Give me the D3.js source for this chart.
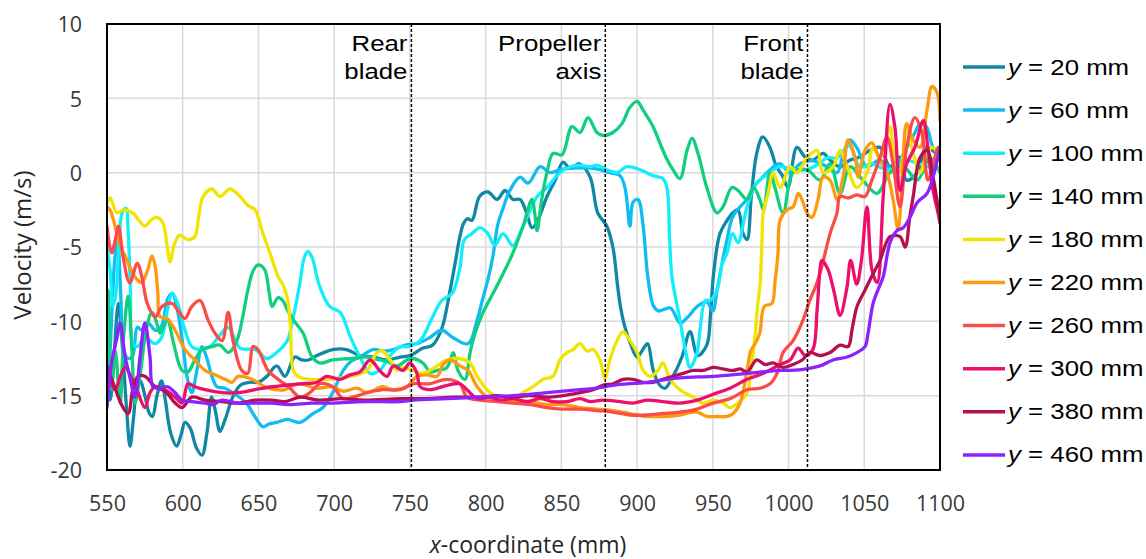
<!DOCTYPE html>
<html>
<head>
<meta charset="utf-8">
<script src="https://cdn.jsdelivr.net/npm/d3@7"></script>
<style>
  html, body { margin: 0; padding: 0; background: #fff; }
  svg { display: block; }
</style>
</head>
<body>
<svg id="chart" width="1146" height="559"></svg>
<script>
// ---- data -------------------------------------------------------------
const xTicks = [550, 600, 650, 700, 750, 800, 850, 900, 950, 1000, 1050, 1100];
const xTickLabels = ["550", "600", "650", "700", "750", "800", "850", "900", "950", "1000", "1050", "1100"];
const yTicks = [-20, -15, -10, -5, 0, 5, 10];
const yTickLabels = ["-20", "-15", "-10", "-5", "0", "5", "10"];

const seriesNames = ["20", "60", "100", "140", "180", "220", "260", "300", "380", "460"];
const seriesColors = ["#0f87a5", "#10bdf0", "#14eefa", "#10cf7f", "#f0e400", "#fd9a0f", "#fc4c48", "#ec0f6b", "#b4104f", "#8c22fc"];

// reference positions along x (mm) and their captions
const markerX = [751, 879, 1012.5];
const markerLabels = [["Rear", "blade"], ["Propeller", "axis"], ["Front", "blade"]];

// velocity profiles: [x (mm), velocity (m/s)]
const y20 = [[550,-14.5],[552,-15.3],[554.5,-12.5],[557.5,-8.8],[560,-11.5],[563,-16],[565.2,-18.4],[567.5,-16.5],[570.5,-14],[572,-14],[575,-15],[578,-16.2],[580,-16.4],[583,-15],[586,-14],[588.5,-15.3],[592,-17.5],[596,-18.4],[599,-17.6],[601.5,-16.8],[605,-17.2],[609,-18.5],[612.7,-19],[616,-17.5],[619,-15.1],[621.5,-16],[624.6,-17.4],[628,-16.6],[633,-15.1],[638,-14.3],[644.5,-14.1],[650,-14.1],[655.6,-13.7],[662,-13],[667.5,-13.7],[674,-12.4],[678.6,-12.6],[683,-12.6],[688.6,-12.3],[699,-11.9],[708,-11.9],[717,-12.3],[725.6,-12.4],[735,-12.6],[743.5,-12.4],[750,-12.3],[758.6,-11.8],[765,-11.6],[771,-10.5],[776,-8.2],[780,-6],[783,-4.3],[785.5,-3.4],[788,-3.1],[791,-3.2],[796,-1.6],[801.5,-1.3],[807.5,-1.8],[812.8,-1.2],[818,-1.8],[822.7,-1.8],[827,-2.7],[830.6,-3.7],[834,-3.3],[840.5,-1.6],[846,-0.5],[851,0.7],[855.7,0.3],[862,0.6],[869,-0.3],[874,-2.7],[880,-3.6],[884,-5],[887,-7.5],[889,-9],[892,-10.4],[896,-11.6],[900,-12.4],[905,-11.7],[907,-11.5],[910.7,-13.3],[915,-14.3],[918.5,-14.5],[923.7,-13.7],[929.6,-12.4],[935,-10.7],[940,-12.3],[946,-11.6],[948.5,-9.5],[950.5,-6.8],[954.7,-4.1],[959.5,-3.2],[963.3,-2.7],[966.6,-2.5],[970,-4.1],[972.6,-4.5],[975.5,-1.5],[979,1.3],[983,2.4],[987.7,1.7],[992,0.4],[996,-0.2],[999.6,-1],[1005.5,1.7],[1011,1.05],[1016,0.85],[1022.8,1.3],[1027.4,0.85],[1034,0.4],[1040.6,0.85],[1047,1.05],[1053.8,1.5],[1060.4,1.7],[1067,0.4],[1073.6,1.05],[1078,-0.5],[1085,0],[1091,1.7],[1098,1.3],[1100,1.5]];
const y60 = [[550,-14.5],[552,-12],[555,-6],[557,-4.5],[559,-8],[561,-11.9],[564,-12.5],[567,-12.3],[570,-10.4],[573,-10.6],[577,-10.1],[582,-10.6],[586,-10.3],[590,-8.5],[593,-8.1],[596,-9],[600,-11.5],[603,-13.8],[606,-14.8],[609,-13.5],[612.7,-11.7],[616,-12.5],[619,-13.6],[622.6,-14.4],[628,-14.5],[633,-14.8],[642,-15.5],[647,-16.3],[653,-17.1],[657,-16.9],[662,-16.8],[669,-16.6],[677.4,-16.8],[686,-16.2],[692.6,-15.8],[699,-14.8],[706,-13.3],[711,-12.7],[717,-12.4],[725.6,-11.9],[733,-12],[739,-11.9],[747,-11.6],[754.7,-11.5],[763,-11.1],[771,-10.6],[778.6,-11.1],[788.4,-11.5],[794.4,-9.9],[798.3,-8.4],[802,-7],[805,-5.5],[808,-3.5],[811.5,-2.4],[816,-1.2],[822.7,-0.3],[828,-0.7],[836,0.4],[842.5,0],[849,0.2],[857.7,0.3],[869,0.3],[875.5,0.2],[882,0],[888.7,-0.2],[892,-1],[895.3,-3.6],[897.3,-2],[900.6,-1.8],[904,-3.6],[906.5,-6.5],[909,-8.3],[911,-9],[914,-9.3],[922,-9.1],[928.3,-10.1],[933.6,-9.7],[939.6,-9],[946,-8.7],[950,-9.3],[952.8,-7.9],[956.7,-5.8],[959.4,-4.5],[963,-3],[968,-2.3],[972.6,-1.8],[976.5,-1],[981,-0.5],[985.8,0],[994,0.6],[1001,0],[1007.6,0.6],[1016,0.8],[1025.4,0.4],[1032,0],[1036,1.2],[1040.6,2.2],[1045,1.7],[1051.8,0.4],[1060.4,0.85],[1069,0.2],[1078,1.7],[1083,2.6],[1087,3.3],[1091,3.1],[1095.4,1.7],[1100,1.3]];
const y100 = [[550,-5],[552,-6.5],[554,-9],[556,-8],[558,-4.5],[560,-2.7],[562.5,-2.4],[564,-4],[565.5,-8],[567,-11.5],[570,-11.7],[575,-11.1],[581.8,-11.5],[586,-11.1],[590,-9.2],[593,-8.1],[596,-8.6],[601.5,-10.6],[606,-11.7],[611.4,-11.9],[618,-11.7],[624,-11],[630,-10.4],[637.8,-11.8],[647.7,-11.9],[655.6,-12.5],[662,-12.1],[669,-11.3],[673,-9.7],[677.4,-7.4],[680,-5.8],[682.5,-5.3],[685.4,-5.7],[688.6,-7],[690.6,-7.7],[697,-9],[704,-9.4],[710.5,-11],[717,-12.4],[723.7,-13.5],[730,-13.3],[737,-12.3],[743.5,-11.7],[748.8,-11.7],[756.7,-11.3],[765,-9.7],[771,-8.6],[778,-8.1],[783,-6.4],[786,-4.5],[791,-4.1],[796.3,-3.7],[801.5,-4.1],[806,-4.9],[811.5,-4.1],[818,-4.9],[824.7,-3.6],[834,-1.6],[840.5,-1],[849,0],[855.7,0.4],[862.3,0.5],[869,0.4],[873.5,0.5],[880,0.2],[886.7,0],[893.3,0.4],[902,0.2],[910.5,-0.2],[917,-0.4],[919.7,-1],[921.5,-4.5],[923,-7],[928.3,-9.9],[932,-12],[935,-13.1],[939.6,-12.1],[941.5,-10.6],[945,-8.6],[948,-8.6],[952.8,-7.9],[956,-6.2],[959.4,-5.4],[963,-4.1],[966.6,-4.7],[972.6,-2.3],[979,-0.7],[987.7,0],[994.4,0.4],[1003,0.2],[1012,0.2],[1020,0.6],[1025.4,1],[1032,1],[1040,1.8],[1047,0.4],[1055,0.6],[1062,0.3],[1070,0.2],[1078,0.8],[1086,0.6],[1092,0.4],[1100,0.2]];
const y140 = [[550,-12],[550.7,-7.9],[553,-14.6],[555.5,-12],[558.6,-15.5],[561,-11],[564,-8.3],[566.5,-12],[568.5,-15.5],[572,-13.5],[576,-10.5],[579.7,-9.4],[582.5,-10],[585,-10.8],[588,-10.2],[590,-9.9],[594,-11.5],[599.5,-13.3],[603.5,-13.4],[608,-12.6],[612.7,-11.9],[619.3,-11.7],[624.6,-11.6],[630,-12.1],[633.5,-11.8],[636.5,-11.1],[640,-9.5],[643,-7.9],[646.5,-6.6],[649.7,-6.2],[654,-6.5],[657,-8],[659,-9],[663,-8.4],[666,-8.6],[669,-9.2],[673,-9.9],[679.5,-10.8],[685.4,-12.4],[690.6,-12.8],[699,-12.6],[710.5,-12.5],[721.7,-12.4],[730,-12.6],[735,-12.7],[741.5,-13],[748,-12.6],[752,-12.5],[758.6,-12.8],[763.3,-13.4],[768,-13.3],[774.5,-13.1],[778.6,-12.1],[781.7,-13.3],[786.4,-13.9],[789.7,-12.1],[793,-10.8],[798.3,-9.4],[805,-8.1],[811.5,-6.8],[818,-5.4],[824.7,-3.6],[830.6,-1.8],[832.5,-2.8],[834,-3.9],[837,-1.8],[840.5,0],[844.5,1.3],[850.4,1.2],[857,3.1],[862.3,2.7],[867.6,3.7],[873.5,2.7],[877.5,2.5],[884,2.7],[890,3.3],[895.3,4.4],[900,4.8],[904,4.2],[910.5,3.1],[915,2],[919.7,0.9],[923.7,0.2],[928.3,-0.4],[933,1.5],[936.3,2.3],[940.2,1.3],[946,-1],[952.8,-2.7],[956.7,-2.3],[962.6,-1],[966.6,-1.2],[972.6,-1.8],[977,-1],[981,-1.8],[983.5,-2.5],[987.7,0],[991,-1],[996.4,-2.7],[1003,0],[1012,0.2],[1020.8,-0.5],[1027.4,0.6],[1034,-1.4],[1040.6,0.4],[1049,-0.5],[1058.5,-1.4],[1067,0],[1075.7,0.4],[1085,-0.5],[1093.4,1],[1100,0]];
const y180 = [[550,-2],[552,-1.7],[556.6,-2.7],[560.6,-2.5],[567,-2.7],[571,-3.2],[575,-3.6],[579,-3.2],[583,-3],[587,-3.4],[589.5,-4.8],[591.6,-6],[594.5,-4.8],[598,-4.2],[603.5,-4.5],[608,-4.3],[610.5,-3],[613.5,-1.6],[619.3,-1.1],[624.6,-1.6],[631.2,-1.1],[637.8,-1.6],[643,-2.2],[647.7,-2.5],[653,-4.1],[657.6,-5.4],[663,-7],[666,-7.5],[669,-8.4],[671,-10.1],[673,-13.3],[676,-13.7],[684,-13.9],[695,-13.9],[710.5,-13.7],[721.7,-13.3],[728.3,-12.1],[732,-12],[737,-12.6],[741.5,-13.3],[745.5,-13.1],[752,-13.3],[758.6,-13.5],[768,-13],[774.5,-12.6],[783,-12.5],[789.7,-12.8],[794.4,-13.7],[803,-14.8],[809.5,-15.1],[818,-15.2],[824.7,-14.8],[831.3,-14.4],[838,-13.9],[844.5,-13.7],[849,-12.6],[853.7,-12.1],[857.7,-11.9],[862.3,-11.5],[867,-12],[871,-11.9],[875.5,-12.6],[878.8,-13.8],[882,-12.6],[886.7,-11.3],[890.7,-10.7],[895.3,-11.3],[900,-12.1],[904,-13.3],[908.5,-13.7],[913.8,-13.3],[917,-12.8],[921.8,-13.9],[928.3,-14.6],[937,-15.1],[943.6,-15.5],[950.2,-15.3],[956.7,-15.5],[961.4,-15.8],[966.6,-15.5],[972.6,-14.8],[975.5,-13],[977.9,-11],[979.5,-9],[981.2,-7.5],[982.5,-4.5],[983.3,-2.7],[986.5,-1.4],[989.8,0],[994.4,-1],[1001,0.4],[1005.6,0],[1012.2,1],[1018.8,1.5],[1022.8,0],[1029.4,0.4],[1034,1.5],[1038.7,0.4],[1045,-1],[1051.8,0],[1055.8,1.7],[1060.4,1],[1067,3.1],[1069,1.7],[1073.6,0],[1078,3.1],[1082.3,1.3],[1086.8,0],[1091.4,1.3],[1095.4,1.7],[1100,0.8]];
const y220 = [[550,-2.3],[552,-2.5],[556.6,-4.1],[559,-5],[562,-5.6],[566.6,-6.7],[570,-7.2],[573,-7.4],[577,-6.5],[579.7,-5.6],[581.8,-6.3],[583.5,-8],[585,-9.7],[589.6,-9.8],[595,-10.6],[601.5,-11.9],[608,-12.6],[614.7,-13.3],[621.3,-13.6],[628,-13.9],[632.5,-14.1],[636.5,-13.7],[645.7,-13.9],[654.3,-14.4],[661,-14.6],[667.5,-14.6],[671,-14.4],[677.4,-14.2],[688.6,-14.5],[699,-14.4],[705.8,-14.7],[715,-14.5],[721.7,-14.8],[732,-14.4],[739,-14.6],[748,-14.4],[754.7,-13.7],[761.3,-13.6],[768,-13.7],[772,-12.9],[776.5,-12.6],[783,-13],[788.4,-13.3],[794.4,-14.4],[801,-15.1],[807.5,-15.3],[818,-15.4],[829.3,-15.4],[840.5,-15.6],[851,-15.6],[862.3,-15.8],[873.5,-15.9],[884,-16],[895.3,-16.2],[906.5,-16.4],[917,-16.4],[928.3,-16.3],[939.6,-16.1],[946,-16.4],[952.8,-16.4],[959.4,-16.4],[963.4,-16.2],[968,-15.5],[972.6,-13.3],[975,-12],[978,-11.5],[981,-10.8],[984,-9],[989,-8.8],[991,-7.4],[993,-5.5],[994.4,-3.2],[999,-2.5],[1003,-2.3],[1006.5,-1.4],[1009.6,-2],[1012,-2.7],[1015.5,-3],[1019.5,-1.8],[1022.8,-0.3],[1027.4,-0.5],[1032,-1.8],[1036,-0.3],[1039.3,2.2],[1044,1],[1046,-0.3],[1050.5,1.5],[1055,2],[1060.4,0.8],[1065,0],[1069,-1.8],[1072.3,-3.8],[1075.7,0.8],[1078,3.3],[1082.3,2.2],[1086.8,1.7],[1091.4,4.2],[1094.7,5.8],[1098,5.4],[1100,3.5]];
const y260 = [[550,-3.6],[553,-5.4],[555.5,-4.5],[557.6,-3.6],[560.5,-5.6],[565,-7.4],[570,-6.1],[573,-7],[576.6,-8.8],[581.8,-9.7],[586.3,-9],[593,-8.8],[597,-9.3],[601.5,-9.8],[606,-9],[611.4,-8.6],[616.7,-9.9],[621.3,-10.8],[626,-11.3],[630,-9.4],[633.2,-11.3],[639,-13.3],[643,-13.5],[646.4,-11.7],[649.7,-11.9],[656.3,-13.3],[663,-13.9],[670.8,-14.5],[677.4,-15.1],[684,-14.8],[690.6,-14.2],[699,-14.4],[705.8,-15.2],[712.4,-15.1],[721.7,-14.8],[732,-14.6],[743.5,-14.6],[752,-14.2],[763,-14.2],[774.5,-13.9],[783,-14.2],[787.7,-15.1],[796.3,-15.3],[807.5,-15.4],[818,-15.5],[829.3,-15.6],[840.5,-15.8],[851,-15.9],[862.3,-15.9],[873.5,-16],[884,-16.1],[895.3,-16.3],[906.5,-16.3],[917,-16.2],[928.3,-16.1],[939.6,-15.9],[950.2,-15.5],[961.4,-15.2],[972.6,-14.6],[981.2,-14.5],[987.8,-14.2],[992.4,-13.5],[996.4,-12.1],[1003,-11.3],[1009.6,-9.9],[1014,-8.6],[1018.8,-7.4],[1022,-6.3],[1027.4,-4.1],[1032,-2.7],[1034,-1.6],[1039.3,-1.7],[1045,-1.5],[1050.4,-1.6],[1055,-0.5],[1060.4,1],[1065,2.4],[1069,0.6],[1073.6,-2.3],[1078,1.7],[1083.4,3.7],[1088,2.7],[1092,-0.5],[1095.5,0.5],[1098.7,1.7],[1100,1.5]];
const y300 = [[550,-13.3],[555.3,-14.6],[558.5,-13.8],[562,-13.1],[566.6,-13.9],[570.5,-14.8],[575,-15.8],[578.4,-14.8],[581.8,-14.4],[588.3,-14.6],[595,-15.1],[599.5,-15.5],[603.5,-14.2],[608,-14.4],[614.7,-14.6],[626,-14.8],[636.5,-14.8],[647.7,-14.6],[659,-14.4],[667.5,-14.3],[677.4,-14.2],[688.6,-14.1],[695,-13.7],[703.8,-13.9],[710.5,-13.6],[717,-13.4],[723.7,-12.6],[730,-13.3],[735,-13.7],[739,-13],[745.5,-13.3],[750,-12.8],[754.7,-13.5],[756.7,-14.4],[763.3,-14.6],[774.5,-14.3],[783,-14.2],[787.7,-14.6],[794.4,-15.2],[803,-15.1],[809.5,-15.3],[818,-15.2],[827.3,-15.4],[836,-15.2],[844.5,-15.4],[853.7,-15.4],[862.3,-15.2],[869,-15.4],[877.5,-15.3],[888.7,-15.4],[897.3,-15.5],[906.5,-15.3],[917,-15.4],[928.3,-15.5],[939.6,-15.3],[950.2,-14.9],[961.4,-14.5],[972.6,-13.9],[983.3,-13.5],[994.4,-12.9],[1001,-12.6],[1006.3,-11.8],[1011,-12.3],[1016,-11.9],[1018.8,-9.3],[1020.8,-6.5],[1022,-5.9],[1026,-6.5],[1030,-8],[1034,-9.6],[1038.6,-7.7],[1041,-5.9],[1045,-7.5],[1048,-6],[1051.8,-2.3],[1055,-6.5],[1058.5,-7.4],[1062.5,-1.6],[1067,4.6],[1070.3,3],[1073.6,-1.2],[1078,0.6],[1083.4,1.7],[1089,3.5],[1092,1.7],[1095.4,-1.2],[1098.7,-2.7],[1100,-3.4]];
const y380 = [[550,-13],[555,-14.4],[560.6,-15.8],[564,-16.2],[567,-14.6],[570.5,-13.7],[575,-13.7],[581.8,-14.4],[588.3,-14.7],[595,-15.5],[599.5,-15.8],[606,-15.1],[614.7,-15.3],[626,-15.4],[636.5,-15.5],[647.7,-15.3],[659,-15.3],[667.5,-15.4],[677.4,-15.1],[690,-15.3],[705,-15.2],[720,-15.3],[743.5,-15.2],[760,-15.2],[780,-15.1],[796,-15.1],[807.5,-15],[818,-15.1],[829,-15],[840.5,-15.1],[851,-15],[862.3,-14.8],[871,-14.6],[877.5,-14.3],[884,-14.2],[890.7,-13.9],[897.3,-13.9],[904,-14.1],[910.5,-14.1],[917,-13.9],[923.7,-13.7],[930.3,-13.5],[937,-13.3],[943.6,-13.3],[950.2,-13.1],[956.7,-13.2],[963.4,-13.3],[968,-13.2],[972.6,-13.4],[979,-12.6],[984.5,-12.9],[989.8,-12.8],[996.4,-13.1],[1003,-12.9],[1009,-12.6],[1014,-12.1],[1020.8,-12.3],[1027.4,-12.1],[1034,-11.6],[1039.3,-11.7],[1042,-10.5],[1045.2,-9],[1050.5,-7.9],[1055.8,-6.8],[1060.4,-5.9],[1067,-4.3],[1073.6,-4.3],[1077,-5],[1080,-3],[1082.3,-1.6],[1086.8,1],[1091.4,1.5],[1095.4,-0.3],[1100,-3.2]];
const y460 = [[550,-15.8],[553,-12.8],[556.6,-11.1],[558.6,-10.1],[562,-12.4],[565,-13.7],[568.5,-15.1],[571.8,-12.4],[575,-10.1],[578.4,-12.4],[580.4,-14.4],[585,-14.5],[590,-14.4],[595,-14.8],[599.5,-15.3],[606,-15.4],[614.7,-15.5],[620,-15.6],[626,-15.3],[636.5,-15.5],[647.7,-15.5],[659,-15.5],[670,-15.6],[685,-15.5],[699,-15.5],[720,-15.4],[743.5,-15.4],[752,-15.3],[774.5,-15.2],[796.3,-15.1],[818,-15],[840.5,-14.8],[862.3,-14.6],[873.5,-14.5],[884,-14.3],[906.5,-14.1],[928.3,-13.8],[950.2,-13.7],[972.6,-13.5],[994.4,-13.3],[1001,-13.3],[1012,-13.2],[1020.8,-13],[1029.4,-12.6],[1038.6,-12.4],[1045.2,-12.1],[1050.5,-11.7],[1052.5,-10.8],[1055.8,-8.8],[1059,-7.9],[1062.5,-7],[1067,-4.7],[1071.6,-3.9],[1075.7,-3.7],[1080.2,-3],[1085,-2],[1091.4,-1.4],[1095.4,-0.3],[1100,1.7]];

const seriesValues = [y20, y60, y100, y140, y180, y220, y260, y300, y380, y460];

// ---- layout -----------------------------------------------------------
const svg = d3.select("#chart");
const plot = { left: 107, right: 940, top: 24, bottom: 470 };

const x = d3.scaleLinear().domain([550, 1100]).range([plot.left, plot.right]);
const y = d3.scaleLinear().domain([-20, 10]).range([plot.bottom, plot.top]);

svg.append("rect").attr("width", 1146).attr("height", 559).attr("fill", "#fff");

// gridlines
const grid = svg.append("g").attr("stroke", "#d9d9d9").attr("stroke-width", 1.5);
grid.selectAll("line.gx").data(xTicks).join("line")
  .attr("class", "gx")
  .attr("x1", d => x(d)).attr("x2", d => x(d))
  .attr("y1", plot.top).attr("y2", plot.bottom);
grid.selectAll("line.gy").data(yTicks).join("line")
  .attr("class", "gy")
  .attr("x1", plot.left).attr("x2", plot.right)
  .attr("y1", d => y(d)).attr("y2", d => y(d));

// axes (labels only)
const xAxis = svg.append("g")
  .attr("transform", `translate(0,${plot.bottom})`)
  .call(d3.axisBottom(x).tickValues(xTicks).tickSize(0).tickPadding(26)
    .tickFormat((d, i) => xTickLabels[i]));
const yAxis = svg.append("g")
  .attr("transform", `translate(${plot.left},0)`)
  .call(d3.axisLeft(y).tickValues(yTicks).tickSize(0).tickPadding(25)
    .tickFormat((d, i) => yTickLabels[i]));
[xAxis, yAxis].forEach(g => {
  g.select(".domain").remove();
  g.selectAll("text")
    .attr("font-family", "'Open Sans', sans-serif")
    .attr("font-size", 21.5)
    .attr("fill", "#3a3a3a");
});
yAxis.selectAll("text").attr("dy", "0.36em");

// clip for the curves
svg.append("clipPath").attr("id", "plot-clip")
  .append("rect")
  .attr("x", plot.left).attr("y", plot.top)
  .attr("width", plot.right - plot.left).attr("height", plot.bottom - plot.top);

// velocity curves
const line = d3.line()
  .x(d => x(d[0]))
  .y(d => y(d[1]))
  .curve(d3.curveCatmullRom.alpha(0.5));

svg.append("g").attr("clip-path", "url(#plot-clip)")
  .selectAll("path")
  .data(seriesValues)
  .join("path")
  .attr("d", line)
  .attr("fill", "none")
  .attr("stroke", (d, i) => seriesColors[i])
  .attr("stroke-width", 3.3)
  .attr("stroke-linejoin", "round")
  .attr("stroke-linecap", "round");

// dashed reference lines with captions
const markers = svg.append("g");
markers.selectAll("line").data(markerX).join("line")
  .attr("x1", d => x(d)).attr("x2", d => x(d))
  .attr("y1", plot.top).attr("y2", plot.bottom)
  .attr("stroke", "#000").attr("stroke-width", 1.5)
  .attr("stroke-dasharray", "3,2");

markerX.forEach((mx, i) => {
  markerLabels[i].forEach((txt, j) => {
    markers.append("text")
      .attr("transform", `translate(${x(mx) - 4},${51 + j * 27.5}) scale(1.2,1)`)
      .attr("text-anchor", "end")
      .attr("font-family", "'Liberation Sans', Arial, sans-serif")
      .attr("font-size", 21.5)
      .attr("fill", "#000")
      .text(txt);
  });
});

// plot frame
svg.append("rect")
  .attr("x", plot.left).attr("y", plot.top)
  .attr("width", plot.right - plot.left).attr("height", plot.bottom - plot.top)
  .attr("fill", "none").attr("stroke", "#000").attr("stroke-width", 2);

// axis titles
svg.append("text")
  .attr("transform", "translate(31,245) rotate(-90)")
  .attr("text-anchor", "middle")
  .attr("font-family", "'Open Sans', sans-serif")
  .attr("font-size", 24)
  .attr("fill", "#262626")
  .text("Velocity (m/s)");

const xTitle = svg.append("text")
  .attr("x", 528).attr("y", 553)
  .attr("text-anchor", "middle")
  .attr("font-family", "'Open Sans', sans-serif")
  .attr("font-size", 23)
  .attr("fill", "#262626");
xTitle.append("tspan").attr("font-style", "italic").text("x");
xTitle.append("tspan").text("-coordinate (mm)");

// legend
const legend = svg.append("g");
seriesNames.forEach((name, i) => {
  const ly = 67 + i * 43.1;
  legend.append("line")
    .attr("x1", 963).attr("x2", 1005)
    .attr("y1", ly).attr("y2", ly)
    .attr("stroke", seriesColors[i]).attr("stroke-width", 3.5);
  const t = legend.append("text")
    .attr("transform", `translate(1008,${ly + 7.5}) scale(1.2,1)`)
    .attr("font-family", "'Liberation Sans', Arial, sans-serif")
    .attr("font-size", 21.5)
    .attr("fill", "#000");
  t.append("tspan").attr("font-style", "italic").text("y");
  t.append("tspan").text(` = ${name} mm`);
});
</script>
</body>
</html>
